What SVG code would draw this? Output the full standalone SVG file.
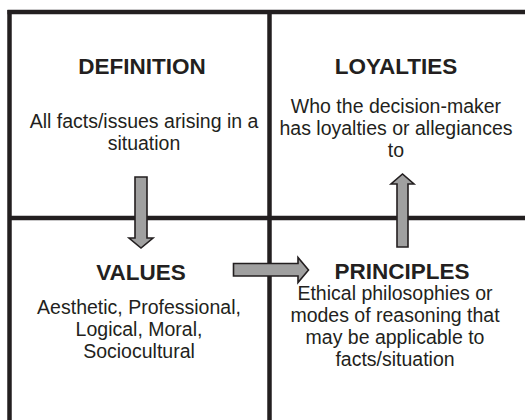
<svg xmlns="http://www.w3.org/2000/svg" width="525" height="420" viewBox="0 0 525 420">
<style>
.ln{stroke:#231f20;stroke-width:4.5;fill:none}
.arr{fill:#a0a0a0;stroke:#231f20;stroke-width:1.6;stroke-linejoin:miter}
.h{font-family:"Liberation Sans",Arial,sans-serif;font-weight:bold;font-size:22.5px;fill:#231f20;text-anchor:middle}
.b{font-family:"Liberation Sans",Arial,sans-serif;font-size:19.5px;fill:#231f20;text-anchor:middle}
</style>
<rect width="525" height="420" fill="#fff"/>
<g id="frame">
<line class="ln" x1="9.5" y1="10" x2="9.5" y2="420"/>
<line class="ln" x1="7.5" y1="12" x2="525" y2="12"/>
<line class="ln" x1="269.5" y1="12" x2="269.5" y2="420"/>
<line class="ln" x1="9.5" y1="218" x2="525" y2="218"/>
</g>
<g id="definition">
<text class="h" x="142" y="74">DEFINITION</text>
<text class="b" x="144" y="127.5">All facts/issues arising in a</text>
<text class="b" x="144" y="150">situation</text>
</g>
<g id="loyalties">
<text class="h" x="396" y="74">LOYALTIES</text>
<text class="b" x="396" y="113">Who the decision-maker</text>
<text class="b" x="396" y="135">has loyalties or allegiances</text>
<text class="b" x="396" y="157">to</text>
</g>
<g id="values">
<text class="h" x="141" y="279.5">VALUES</text>
<text class="b" x="139" y="313.5">Aesthetic, Professional,</text>
<text class="b" x="139" y="335.5">Logical, Moral,</text>
<text class="b" x="139" y="357.5">Sociocultural</text>
</g>
<g id="principles">
<text class="h" x="402" y="278.5">PRINCIPLES</text>
<text class="b" x="395" y="299.5">Ethical philosophies or</text>
<text class="b" x="395" y="321.5">modes of reasoning that</text>
<text class="b" x="395" y="343.5">may be applicable to</text>
<text class="b" x="395" y="365.5">facts/situation</text>
</g>
<g id="connectors">
<path class="arr" d="M135,177 H147 V238 H153 L141,248 L129,238 H135 Z"/>
<path class="arr" d="M397,247 V184 H391 L402.5,174 L414,184 H408 V247 Z"/>
<path class="arr" d="M233.5,263.5 H298 V257.5 L308.5,270 L298,282.5 V276 H233.5 Z"/>
</g>
</svg>
